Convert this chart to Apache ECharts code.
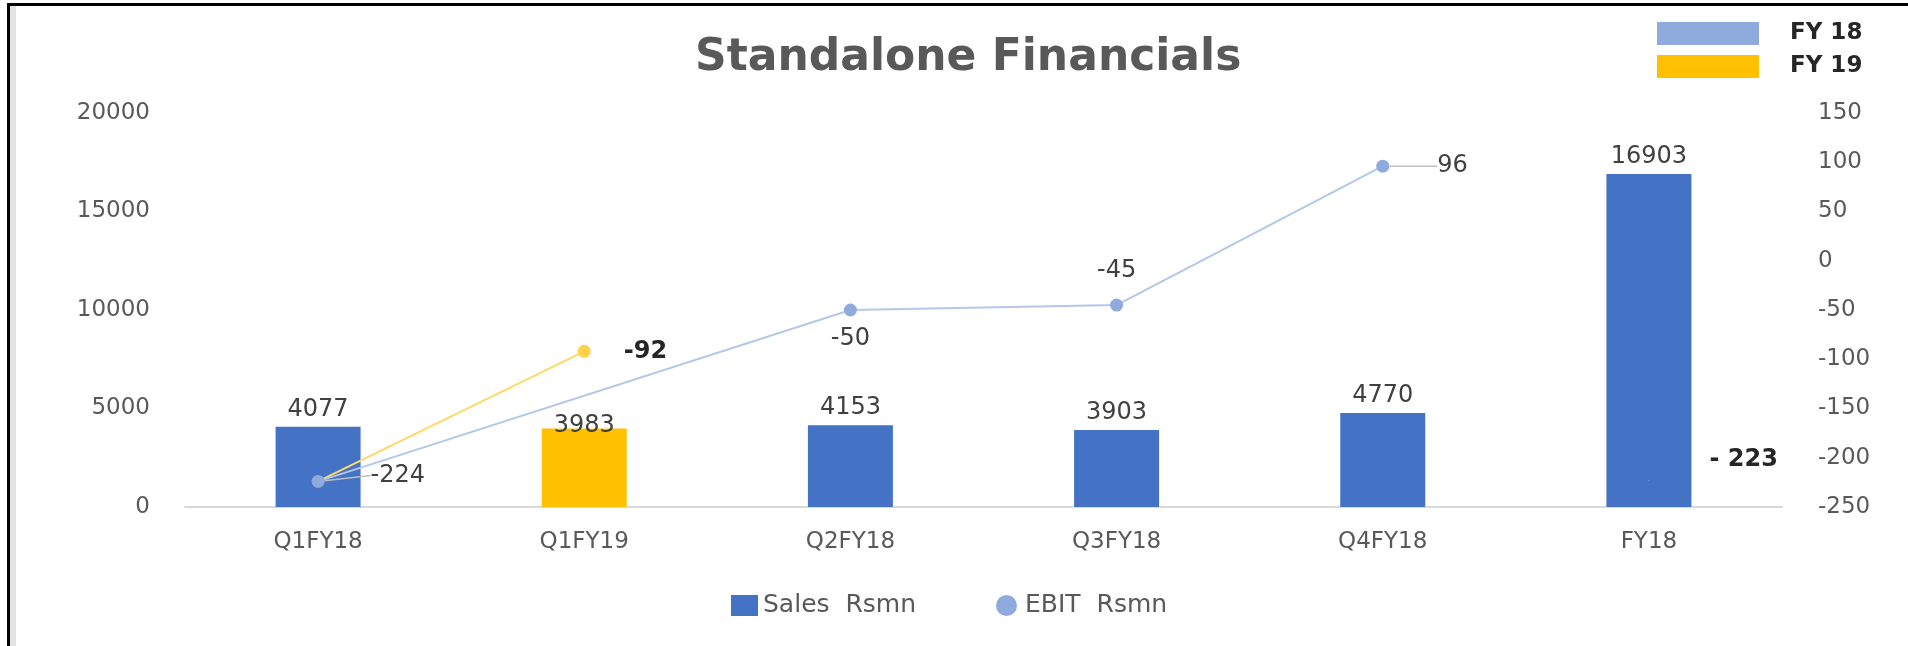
<!DOCTYPE html>
<html>
<head>
<meta charset="utf-8">
<script src="https://cdn.jsdelivr.net/npm/echarts@6/dist/echarts.min.js"></script>
<style>
html, body { margin: 0; padding: 0; background: #fff; }
#main { width: 1908px; height: 646px; }
</style>
</head>
<body>
<div id="main"></div>
<script>
var categories = ['Q1FY18', 'Q1FY19', 'Q2FY18', 'Q3FY18', 'Q4FY18', 'FY18'];
var sales = [4077, 3983, 4153, 3903, 4770, 16903];
var ebitFY18 = [-224, null, -50, -45, 96, null];   // quarterly EBIT line
var ebitFY19 = [-224, -92, null, null, null, null]; // Q1FY19 comparison
var ebitYear = [null, null, null, null, null, -223];

// where each EBIT label sits round its point
var ebitLabelPos = [
    { position: 'right', distance: 6 },
    null,
    { position: 'bottom', distance: 10, offset: [12, 0] },
    { position: 'top', distance: 16 },
    { position: 'right', distance: 6 },
    null
];
// labels pulled away from their point, with a leader line
var ebitLabelShift = [
    { dx: 40, dy: -6 },
    null, null, null,
    { dx: 42, dy: 0 },
    null
];

var myChart = echarts.init(document.getElementById('main'));

var option = {
    backgroundColor: '#fff',
    textStyle: { fontFamily: 'DejaVu Sans' },
    title: {
        text: 'Standalone Financials',
        left: 690,
        top: 32,
        textStyle: {
            color: '#595959',
            fontWeight: 'bold',
            fontSize: 44
        }
    },
    graphic: [
        { type: 'rect', shape: { x: 7, y: 3, width: 1901, height: 3 }, style: { fill: '#000' } },
        { type: 'rect', shape: { x: 7, y: 3, width: 3, height: 643 }, style: { fill: '#000' } },
        { type: 'rect', shape: { x: 10, y: 6, width: 6, height: 640 }, style: { fill: '#e3e3e3' } }
    ],
    legend: [{
        data: ['FY 18', 'FY 19'],
        orient: 'vertical',
        left: 1652,
        top: 17,
        icon: 'rect',
        itemWidth: 102,
        itemHeight: 23,
        itemGap: 10,
        selectedMode: false,
        textStyle: {
            fontSize: 23,
            fontWeight: 'bold',
            color: '#262626',
            padding: [0, 0, 0, 26]
        }
    }, {
        data: [{ name: 'Sales  Rsmn', icon: 'rect' }, { name: 'EBIT  Rsmn', icon: 'circle' }],
        left: 726,
        top: 588,
        itemWidth: 27,
        itemHeight: 21,
        itemGap: 80,
        selectedMode: false,
        textStyle: { fontSize: 25, color: '#595959' }
    }],
    grid: {
        left: 185,
        right: 126,
        top: 113,
        bottom: 139
    },
    xAxis: {
        type: 'category',
        data: categories,
        axisTick: { show: false },
        axisLine: { lineStyle: { color: '#d9d9d9', width: 2 } },
        axisLabel: { fontSize: 23, color: '#595959', margin: 24 }
    },
    yAxis: [{
        type: 'value',
        min: 0,
        max: 20000,
        interval: 5000,
        splitLine: { show: false },
        axisLine: { show: false },
        axisLabel: {
            fontSize: 23,
            color: '#595959',
            margin: 35,
            formatter: function (v) { return String(v); }
        }
    }, {
        type: 'value',
        min: -250,
        max: 150,
        interval: 50,
        splitLine: { show: false },
        axisLine: { show: false },
        axisLabel: { fontSize: 23, color: '#595959', margin: 36 }
    }],
    series: [{
        name: 'Sales  Rsmn',
        type: 'bar',
        barWidth: 85,
        itemStyle: { color: '#4472c4' },
        label: { show: true, position: 'top', fontSize: 24, color: '#404040' },
        data: sales.map(function (v, i) {
            if (categories[i] === 'Q1FY19') {
                return { value: v, itemStyle: { color: '#ffc000' }, label: { offset: [0, 14] } };
            }
            return v;
        })
    }, {
        name: 'FY 19',
        type: 'line',
        yAxisIndex: 1,
        symbol: 'circle',
        symbolSize: 13,
        itemStyle: { color: '#ffc000' },
        lineStyle: { color: '#ffd966', width: 2 },
        label: {
            show: true,
            position: 'right',
            distance: 33,
            fontSize: 24,
            fontWeight: 'bold',
            color: '#262626'
        },
        data: ebitFY19.map(function (v, i) {
            if (i === 0) {
                return { value: v, symbol: 'none', label: { show: false } };
            }
            return { value: v, itemStyle: { color: '#ffd24c' } };
        })
    }, {
        name: 'EBIT  Rsmn',
        type: 'line',
        yAxisIndex: 1,
        connectNulls: true,
        symbol: 'circle',
        symbolSize: 13,
        itemStyle: { color: '#8faadc' },
        lineStyle: { color: '#b4c7e7', width: 2 },
        label: { show: true, fontSize: 24, color: '#404040' },
        labelLayout: function (params) {
            return ebitLabelShift[params.dataIndex] || {};
        },
        data: ebitFY18.map(function (v, i) {
            if (v === null) return null;
            var item = { value: v, label: ebitLabelPos[i] };
            if (ebitLabelShift[i]) {
                item.labelLine = { show: true, lineStyle: { color: '#bfbfbf', width: 1.5 } };
            }
            return item;
        })
    }, {
        name: 'FY 18',
        type: 'line',
        yAxisIndex: 1,
        symbol: 'circle',
        symbolSize: 1,
        itemStyle: { color: '#8faadc' },
        label: {
            show: true,
            position: 'right',
            distance: 60,
            offset: [0, -21],
            fontSize: 24,
            fontWeight: 'bold',
            color: '#262626',
            formatter: function (p) { return '- ' + Math.abs(p.value); }
        },
        data: ebitYear
    }]
};

myChart.setOption(option);
</script>
</body>
</html>
